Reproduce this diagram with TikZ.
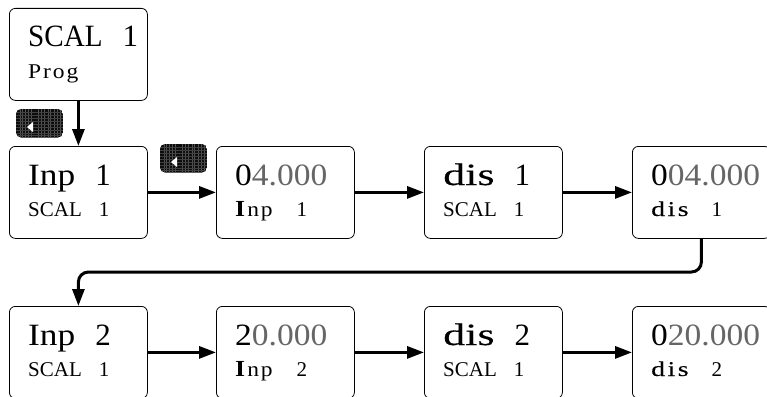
\documentclass[tikz,border=0pt]{standalone}
\usepackage{fontspec}
\setmainfont{Liberation Serif}
\newfontfamily\scalfont[FakeStretch=0.94]{Liberation Serif}
\newfontfamily\inpfont[FakeStretch=1.14]{Liberation Serif}
\newfontfamily\digitfont[FakeStretch=1.08]{Liberation Serif}
\newfontfamily\wideserif[FakeStretch=1.42,FakeBold=0.25]{Liberation Serif}
\newfontfamily\spacedserif[FakeStretch=1.12,LetterSpace=9]{Liberation Serif}
\newfontfamily\spacedwide[FakeStretch=1.32,LetterSpace=12,FakeBold=0.15]{Liberation Serif}
\usetikzlibrary{arrows.meta}
\definecolor{dimgray}{HTML}{666666}
\newcommand{\ttl}{\fontsize{31}{34}\selectfont}
\newcommand{\subt}{\fontsize{21}{24}\selectfont}
\newcommand{\gaptitle}{\hspace{20pt}}
\newcommand{\gapsub}{\hspace{17pt}}
\tikzset{
  x=1pt,y=-1pt,
  card/.style={draw=black,line width=0.8pt,rounded corners=6pt,minimum width=138pt,minimum height=92pt,inner sep=0pt,anchor=north west,fill=white},
  title/.style={anchor=base west,inner sep=0pt,font=\ttl},
  subtitle/.style={anchor=base west,inner sep=0pt,font=\subt},
  flow/.style={line width=3pt,-{Stealth[inset=0pt,length=17pt,width=12pt]}}
}
\newcommand{\card}[5]{%
  \node[card] (#1) at (#2,#3) {};
  \node[title] (#1t) at (#2+19,#3+39) {#4};
  \node[subtitle] (#1s) at (#2+19,#3+70) {#5};
}
\newcommand{\keybutton}[3]{%
  \begin{scope}
    \clip[rounded corners=5pt] (#2,#3) rectangle ++(47,28.5);
    \fill[black!95] (#2,#3) rectangle ++(47,28.5);
    \foreach \d in {4,6,9,12,15,22,25,28,32,34,38,41,44}
      \draw[black!68,line width=0.3pt] (#2+\d,#3) -- ++(0,28.5);
    \foreach \d in {3,6,9,12,15,18,21,24,26}
      \draw[black!75,line width=0.25pt] (#2,#3+\d) -- ++(47,0);
  \end{scope}
  \coordinate (#1) at (#2+17,#3+18);
  \fill[white] (#2+11,#3+18) -- (#2+17,#3+13) -- (#2+17,#3+23) -- cycle;
}
\begin{document}
\begin{tikzpicture}
\useasboundingbox (0,0) rectangle (767,396);
\clip (0,0) rectangle (767,396);
\card{a}{9}{8}{{\scalfont SCAL}\gaptitle 1}{{\spacedserif Prog}}
\card{b}{9}{146}{{\inpfont Inp}\gaptitle 1}{SCAL\gapsub 1}
\card{c}{216}{146}{{\digitfont 0\textcolor{dimgray}{4.000}}}{{\spacedserif{\fontsize{23}{24}\selectfont\textbf{I}}np}\gapsub\hspace{7pt}1}
\card{d}{424}{146}{{\wideserif dis}\gaptitle 1}{SCAL\gapsub 1}
\card{e}{632}{146}{{\digitfont 0\textcolor{dimgray}{04.000}}}{{\spacedwide dis}\gapsub\hspace{6pt}1}
\card{f}{9}{306}{{\inpfont Inp}\gaptitle 2}{SCAL\gapsub 1}
\card{g}{216}{306}{{\digitfont 2\textcolor{dimgray}{0.000}}}{{\spacedserif{\fontsize{23}{24}\selectfont\textbf{I}}np}\gapsub\hspace{7pt}2}
\card{h}{424}{306}{{\wideserif dis}\gaptitle 2}{SCAL\gapsub 1}
\card{i}{632}{306}{{\digitfont 0\textcolor{dimgray}{20.000}}}{{\spacedwide dis}\gapsub\hspace{6pt}2}
\draw[flow] (a.south) -- (b.north);
\draw[flow] (b.east) -- (c.west);
\draw[flow] (c.east) -- (d.west);
\draw[flow] (d.east) -- (e.west);
\coordinate (turnr) at (e.south |- 0,272);
\coordinate (turnl) at (f.north |- 0,272);
\draw[flow,rounded corners=10pt] (e.south) -- (turnr) -- (turnl) -- (f.north);
\draw[flow] (f.east) -- (g.west);
\draw[flow] (g.east) -- (h.west);
\draw[flow] (h.east) -- (i.west);
\keybutton{k1}{16}{109}
\keybutton{k2}{160}{144}
\end{tikzpicture}
\end{document}
